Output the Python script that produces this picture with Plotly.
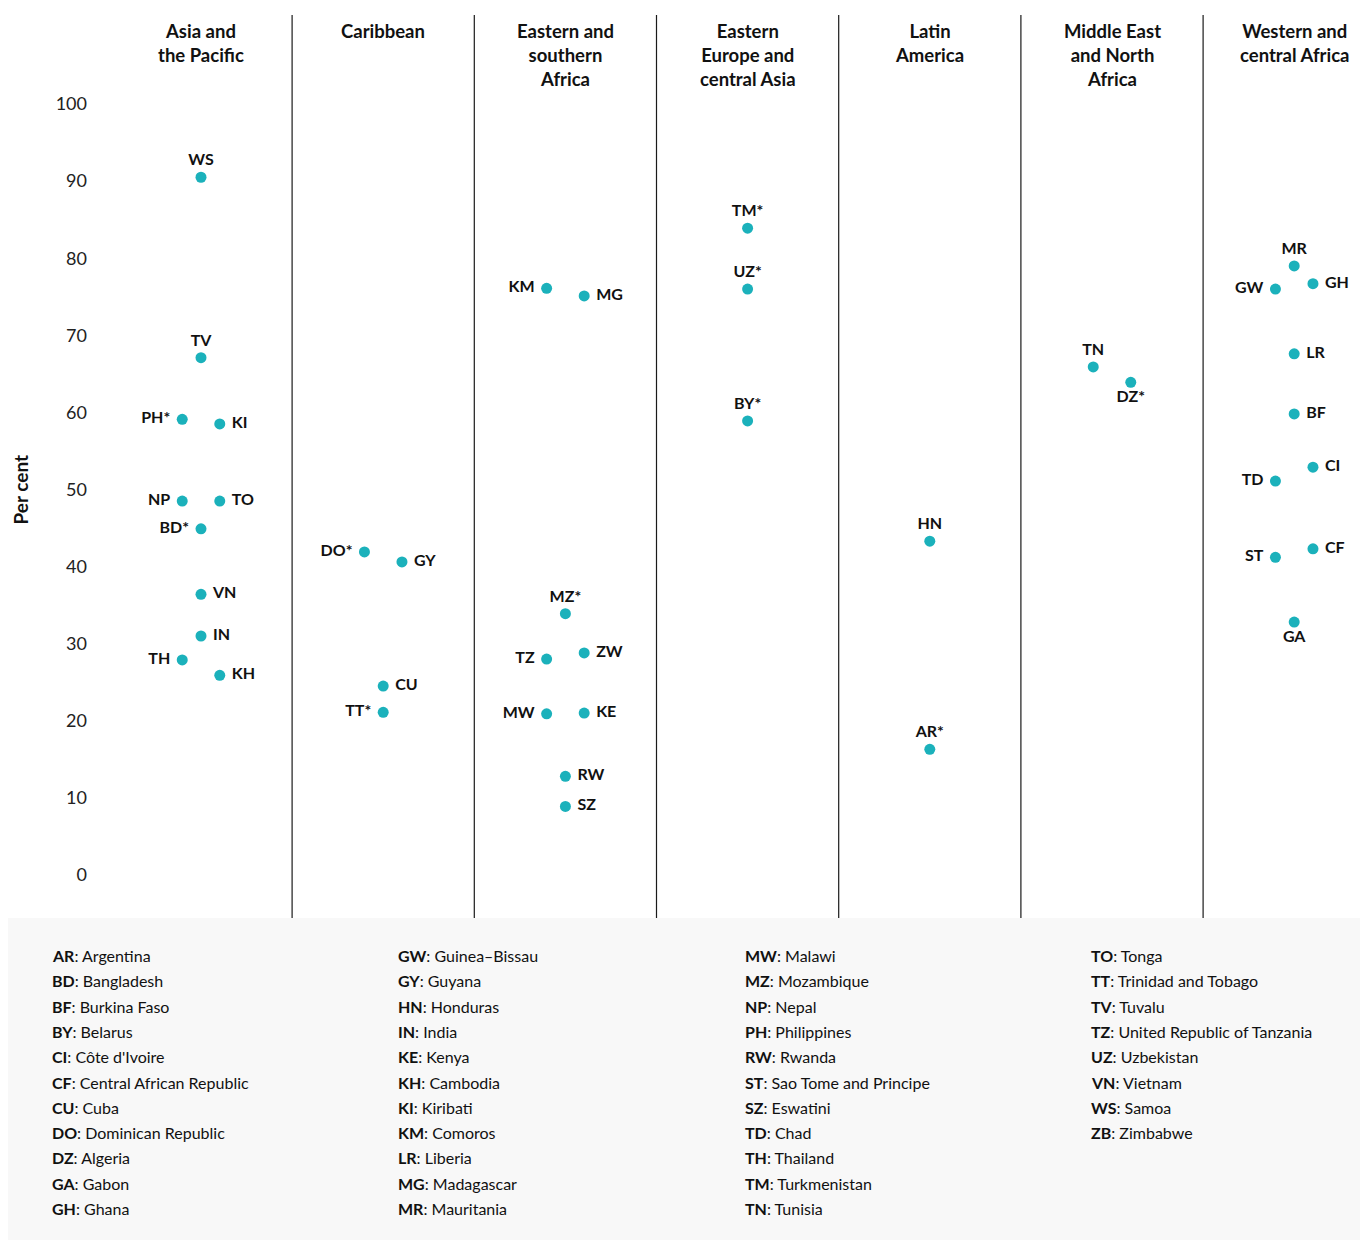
import plotly.graph_objects as go

# ---------------- data ----------------
regions = ["Asia and<br>the Pacific", "Caribbean", "Eastern and<br>southern<br>Africa",
           "Eastern<br>Europe and<br>central Asia", "Latin<br>America",
           "Middle East<br>and North<br>Africa", "Western and<br>central Africa"]

codes = ["WS", "TV", "PH*", "KI", "NP", "TO", "BD*", "VN", "IN", "TH", "KH",
         "DO*", "GY", "CU", "TT*",
         "KM", "MG", "MZ*", "TZ", "ZW", "MW", "KE", "RW", "SZ",
         "TM*", "UZ*", "BY*",
         "HN", "AR*",
         "TN", "DZ*",
         "MR", "GH", "GW", "LR", "BF", "CI", "TD", "CF", "ST", "GA"]
values = [90.5, 67.1, 59.1, 58.5, 48.5, 48.5, 44.9, 36.4, 31.0, 27.9, 25.9,
          41.9, 40.6, 24.5, 21.1,
          76.1, 75.1, 33.9, 28.0, 28.8, 20.9, 21.0, 12.8, 8.9,
          83.9, 76.0, 58.9,
          43.3, 16.3,
          65.9, 63.9,
          79.0, 76.7, 76.0, 67.6, 59.8, 52.9, 51.1, 42.3, 41.2, 32.8]
region_idx = [0]*11 + [1]*4 + [2]*9 + [3]*3 + [4]*2 + [5]*2 + [6]*10

yticks = [0, 10, 20, 30, 40, 50, 60, 70, 80, 90, 100]

legend_cols = [
    [("AR", "Argentina"), ("BD", "Bangladesh"), ("BF", "Burkina Faso"), ("BY", "Belarus"),
     ("CI", "Côte d'Ivoire"), ("CF", "Central African Republic"), ("CU", "Cuba"),
     ("DO", "Dominican Republic"), ("DZ", "Algeria"), ("GA", "Gabon"), ("GH", "Ghana")],
    [("GW", "Guinea–Bissau"), ("GY", "Guyana"), ("HN", "Honduras"), ("IN", "India"),
     ("KE", "Kenya"), ("KH", "Cambodia"), ("KI", "Kiribati"), ("KM", "Comoros"),
     ("LR", "Liberia"), ("MG", "Madagascar"), ("MR", "Mauritania")],
    [("MW", "Malawi"), ("MZ", "Mozambique"), ("NP", "Nepal"), ("PH", "Philippines"),
     ("RW", "Rwanda"), ("ST", "Sao Tome and Principe"), ("SZ", "Eswatini"), ("TD", "Chad"),
     ("TH", "Thailand"), ("TM", "Turkmenistan"), ("TN", "Tunisia")],
    [("TO", "Tonga"), ("TT", "Trinidad and Tobago"), ("TV", "Tuvalu"),
     ("TZ", "United Republic of Tanzania"), ("UZ", "Uzbekistan"), ("VN", "Vietnam"),
     ("WS", "Samoa"), ("ZB", "Zimbabwe")],
]

# ---------------- layout of marks (slot & label side) ----------------
slot = [0, 0, -1, 1, -1, 1, 0, 0, 0, -1, 1,
        -1, 1, 0, 0,
        -1, 1, 0, -1, 1, -1, 1, 0, 0,
        0, 0, 0,
        0, 0,
        -1, 1,
        0, 1, -1, 0, 0, 1, -1, 1, -1, 0]
side = ["top center", "top center", "middle left", "middle right", "middle left", "middle right",
        "middle left", "middle right", "middle right", "middle left", "middle right",
        "middle left", "middle right", "middle right", "middle left",
        "middle left", "middle right", "top center", "middle left", "middle right",
        "middle left", "middle right", "middle right", "middle right",
        "top center", "top center", "top center",
        "top center", "top center",
        "top center", "bottom center",
        "top center", "middle right", "middle left", "middle right", "middle right",
        "middle right", "middle left", "middle right", "middle left", "bottom center"]

SLOT_W = 0.103
xs = [r + s * SLOT_W for r, s in zip(region_idx, slot)]

def label(c, s):
    if s == "middle right":
        return f"\u00a0<b>{c}</b>"
    if s == "middle left":
        return f"<b>{c}</b>\u00a0"
    return f"<b>{c}</b>"

# page is offset by 8px body margin; geometry in page pixels
OFF = 8
W, H = 1360, 1232
PLOT_L, PLOT_T, PLOT_B = 88, 15, 918   # page px
ML, MR_, MT = PLOT_L - OFF, 0, PLOT_T - OFF
MB = H - (PLOT_B - OFF)
PW, PH = W - ML - MR_, H - MT - MB

COL0_X, COL_W = 201, 182.2   # page px of first column centre and column width
Y0_PX, Y_SCALE = 875, 7.71   # page px of y=0, px per unit

def px_x(px):
    return (px - PLOT_L) / PW

def px_y(py):
    return (PLOT_B - py) / PH

FONT = "Lato, 'Open Sans', sans-serif"
TEAL = "#1BB1BB"

fig = go.Figure()
fig.add_trace(go.Scatter(
    x=xs, y=values, mode="markers+text", text=[label(c, s) for c, s in zip(codes, side)],
    textposition=side, textfont=dict(family=FONT, size=16, color="#111"),
    marker=dict(size=11, color=TEAL), cliponaxis=False, showlegend=False,
    hoverinfo="skip"))

shapes = []
shapes.append(dict(type="rect", xref="paper", yref="paper", x0=px_x(OFF), x1=1.0,
                   y0=px_y(H + OFF), y1=0, fillcolor="#F8F8F8", line=dict(width=0),
                   layer="below"))
for i in range(len(regions) - 1):
    shapes.append(dict(type="line", xref="x", yref="paper", x0=i + 0.5, x1=i + 0.5,
                       y0=0, y1=1, line=dict(color="#1a1a1a", width=1.2)))

annotations = []
for i, r in enumerate(regions):
    annotations.append(dict(x=i, xref="x", y=px_y(18), yref="paper", yanchor="top",
                            xanchor="center", text=f"<b>{r}</b>", showarrow=False,
                            font=dict(family=FONT, size=18.5, color="#111"), align="center"))
annotations.append(dict(x=px_x(20), xref="paper", xanchor="center", y=50, yref="y",
                        yanchor="middle", text="<b>Per cent</b>", textangle=-90,
                        showarrow=False, font=dict(family=FONT, size=19, color="#111")))

col_x = [50, 396, 743, 1089]
row0 = 955.5
row_step = 25.3
for ci, col in enumerate(legend_cols):
    for ri, (code, name) in enumerate(col):
        annotations.append(dict(x=px_x(col_x[ci]), xref="paper",
                                y=px_y(row0 + ri * row_step), yref="paper",
                                xanchor="left", yanchor="middle", showarrow=False,
                                text=f"<b>{code}</b>: {name}",
                                font=dict(family=FONT, size=16, color="#111")))

fig.update_layout(
    width=W, height=H, margin=dict(l=ML, r=MR_, t=MT, b=MB),
    plot_bgcolor="white", paper_bgcolor="white",
    xaxis=dict(range=[(PLOT_L - COL0_X) / COL_W, (W + OFF - COL0_X) / COL_W],
               showgrid=False, zeroline=False, showticklabels=False, showline=False),
    yaxis=dict(range=[-(PLOT_B - Y0_PX) / Y_SCALE, (Y0_PX - PLOT_T) / Y_SCALE],
               tickvals=yticks, showgrid=False, zeroline=False, showline=False, ticks="",
               tickfont=dict(family=FONT, size=18, color="#222")),
    shapes=shapes, annotations=annotations,
)

fig.write_html("out.html")
